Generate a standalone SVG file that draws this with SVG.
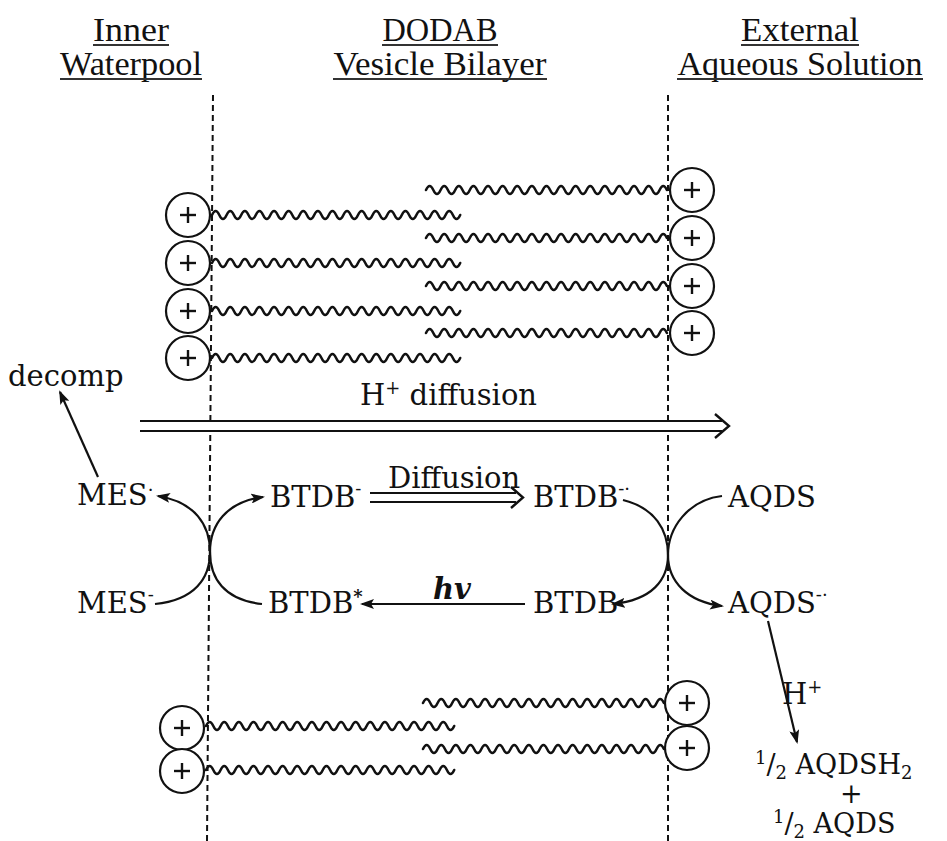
<svg xmlns="http://www.w3.org/2000/svg" xmlns:xlink="http://www.w3.org/1999/xlink" width="947" height="841" viewBox="0 0 947 841">
  <style>
    .hdr { font-family: "Liberation Serif", serif; font-size: 33px; fill: #111; text-anchor: middle; }
    .ul { stroke: #333; stroke-width: 2.2; }
    .lbl { font-family: "DejaVu Serif", serif; font-size: 29px; fill: #111; }
    .prod { font-family: "DejaVu Serif", serif; font-size: 27px; fill: #111; }
    .sup { font-size: 18px; }
    .dash { stroke: #111; stroke-width: 2; stroke-dasharray: 6 4; fill: none; }
    .tail { stroke: #111; stroke-width: 2.5; fill: none; stroke-linecap: round; }
    .head circle { fill: #fff; stroke: #111; stroke-width: 2.2; }
    .head line { stroke: #111; stroke-width: 2.4; }
    .arc { stroke: #111; stroke-width: 2.2; fill: none; }
    .dbl-outer { stroke: #111; stroke-width: 12; fill: none; }
    .dbl-inner { stroke: #fff; stroke-width: 8; fill: none; }
    .chev { stroke: #111; stroke-width: 2.4; fill: none; stroke-linejoin: miter; }
  </style>
  <defs>
    <!-- surfactant head group -->
    <g id="headgrp" class="head">
      <circle cx="0" cy="0" r="22"/>
      <line x1="-8" y1="0" x2="8" y2="0"/>
      <line x1="0" y1="-8" x2="0" y2="8"/>
    </g>
    <!-- hydrocarbon tail, 34 half waves -->
    <path id="tailLong" class="tail" d="M0,0 q3.65,-8 7.3,0 t7.3,0 t7.3,0 t7.3,0 t7.3,0 t7.3,0 t7.3,0 t7.3,0 t7.3,0 t7.3,0 t7.3,0 t7.3,0 t7.3,0 t7.3,0 t7.3,0 t7.3,0 t7.3,0 t7.3,0 t7.3,0 t7.3,0 t7.3,0 t7.3,0 t7.3,0 t7.3,0 t7.3,0 t7.3,0 t7.3,0 t7.3,0 t7.3,0 t7.3,0 t7.3,0 t7.3,0 t7.3,0 t7.3,0"/>
    <!-- outer leaflet tail, 33 half waves -->
    <path id="tailShort" class="tail" d="M0,0 q3.65,-8 7.3,0 t7.3,0 t7.3,0 t7.3,0 t7.3,0 t7.3,0 t7.3,0 t7.3,0 t7.3,0 t7.3,0 t7.3,0 t7.3,0 t7.3,0 t7.3,0 t7.3,0 t7.3,0 t7.3,0 t7.3,0 t7.3,0 t7.3,0 t7.3,0 t7.3,0 t7.3,0 t7.3,0 t7.3,0 t7.3,0 t7.3,0 t7.3,0 t7.3,0 t7.3,0 t7.3,0 t7.3,0 t7.3,0"/>
    <marker id="ah" viewBox="0 0 14 10" refX="12" refY="5" markerWidth="14" markerHeight="10" markerUnits="userSpaceOnUse" orient="auto">
      <path d="M0,0 L14,5 L0,10 L3,5 z" fill="#111"/>
    </marker>
  </defs>

  <!-- column headings -->
  <g id="heading-inner">
    <text class="hdr" x="131" y="41" textLength="76" lengthAdjust="spacingAndGlyphs">Inner</text>
    <text class="hdr" x="131" y="75" textLength="142" lengthAdjust="spacingAndGlyphs">Waterpool</text>
    <line class="ul" x1="93" y1="45" x2="169" y2="45"/>
    <line class="ul" x1="60" y1="79" x2="202" y2="79"/>
  </g>
  <g id="heading-bilayer">
    <text class="hdr" x="440" y="41" textLength="115" lengthAdjust="spacingAndGlyphs">DODAB</text>
    <text class="hdr" x="440" y="75" textLength="213" lengthAdjust="spacingAndGlyphs">Vesicle Bilayer</text>
    <line class="ul" x1="382" y1="45" x2="498" y2="45"/>
    <line class="ul" x1="333" y1="79" x2="547" y2="79"/>
  </g>
  <g id="heading-external">
    <text class="hdr" x="800" y="41" textLength="118" lengthAdjust="spacingAndGlyphs">External</text>
    <text class="hdr" x="800" y="75" textLength="245" lengthAdjust="spacingAndGlyphs">Aqueous Solution</text>
    <line class="ul" x1="741" y1="45" x2="859" y2="45"/>
    <line class="ul" x1="677" y1="79" x2="923" y2="79"/>
  </g>

  <!-- bilayer boundaries -->
  <g id="boundaries">
    <line class="dash" x1="213" y1="95" x2="207" y2="841"/>
    <line class="dash" x1="668" y1="95" x2="668" y2="841"/>
  </g>

  <!-- upper bilayer section -->
  <g id="upper-inner-leaflet">
    <use xlink:href="#tailLong" x="212" y="215"/>
    <use xlink:href="#tailLong" x="212" y="263"/>
    <use xlink:href="#tailLong" x="212" y="311"/>
    <use xlink:href="#tailLong" x="212" y="358"/>
    <use xlink:href="#headgrp" x="188" y="215"/>
    <use xlink:href="#headgrp" x="188" y="263"/>
    <use xlink:href="#headgrp" x="188" y="311"/>
    <use xlink:href="#headgrp" x="188" y="358"/>
  </g>
  <g id="upper-outer-leaflet">
    <use xlink:href="#tailShort" x="426" y="190"/>
    <use xlink:href="#tailShort" x="426" y="238"/>
    <use xlink:href="#tailShort" x="426" y="286"/>
    <use xlink:href="#tailShort" x="426" y="333"/>
    <use xlink:href="#headgrp" x="692" y="190"/>
    <use xlink:href="#headgrp" x="692" y="238"/>
    <use xlink:href="#headgrp" x="692" y="286"/>
    <use xlink:href="#headgrp" x="692" y="333"/>
  </g>

  <!-- lower bilayer section -->
  <g id="lower-inner-leaflet">
    <use xlink:href="#tailLong" x="206" y="726"/>
    <use xlink:href="#tailLong" x="206" y="770"/>
    <use xlink:href="#headgrp" x="182" y="728"/>
    <use xlink:href="#headgrp" x="182" y="771"/>
  </g>
  <g id="lower-outer-leaflet">
    <use xlink:href="#tailShort" x="423" y="703"/>
    <use xlink:href="#tailShort" x="423" y="749"/>
    <use xlink:href="#headgrp" x="687" y="703"/>
    <use xlink:href="#headgrp" x="687" y="748"/>
  </g>

  <!-- species labels -->
  <g id="decomp"><text class="lbl" x="8" y="386">decomp</text></g>
  <g id="h-diffusion-label"><text class="lbl" x="360" y="405">H<tspan class="sup" dy="-11">+</tspan><tspan dy="11"> diffusion</tspan></text></g>
  <g id="mes-radical"><text class="lbl" x="77" y="505">MES<tspan class="sup" dy="-9">·</tspan></text></g>
  <g id="mes-anion"><text class="lbl" x="77" y="613">MES<tspan class="sup" dy="-12">-</tspan></text></g>
  <g id="btdb-anion-inner"><text class="lbl" x="270" y="507">BTDB<tspan class="sup" dy="-12">-</tspan></text></g>
  <g id="btdb-excited"><text class="lbl" x="268" y="613">BTDB<tspan class="sup" dy="-10" font-weight="bold">*</tspan></text></g>
  <g id="diffusion-label"><text class="lbl" x="388" y="488">Diffusion</text></g>
  <g id="hv-label"><text class="lbl" x="433" y="599" font-weight="bold" font-style="italic">hv</text></g>
  <g id="btdb-anion-outer"><text class="lbl" x="533" y="507">BTDB<tspan class="sup" dy="-12">-·</tspan></text></g>
  <g id="btdb-ground"><text class="lbl" x="533" y="613">BTDB</text></g>
  <g id="aqds"><text class="lbl" x="728" y="507">AQDS</text></g>
  <g id="aqds-radical"><text class="lbl" x="728" y="613">AQDS<tspan class="sup" dy="-12">-·</tspan></text></g>
  <g id="h-plus"><text class="lbl" x="782" y="704">H<tspan class="sup" dy="-11">+</tspan></text></g>
  <g id="products">
    <text class="prod" x="755" y="774"><tspan class="sup" dy="-10">1</tspan><tspan dy="10">/</tspan><tspan class="sup" dy="5">2</tspan><tspan dy="-5"> AQDSH</tspan><tspan class="sup" dy="5">2</tspan></text>
    <text class="prod" x="840" y="803" font-size="20">+</text>
    <text class="prod" x="773" y="833"><tspan class="sup" dy="-10">1</tspan><tspan dy="10">/</tspan><tspan class="sup" dy="5">2</tspan><tspan dy="-5"> AQDS</tspan></text>
  </g>

  <!-- connectors -->
  <g id="connectors">
    <!-- H+ diffusion, hollow double arrow -->
    <path class="dbl-outer" d="M140,426 H722"/>
    <path class="dbl-inner" d="M140,426 H723"/>
    <path class="chev" d="M715,414 L729,426 L715,438"/>
    <!-- BTDB- diffusion across the bilayer -->
    <path class="dbl-outer" d="M370,497.5 H516" style="stroke-width:11"/>
    <path class="dbl-inner" d="M370,497.5 H517" style="stroke-width:7"/>
    <path class="chev" d="M511,487 L523,497.5 L511,508"/>
    <!-- photoexcitation -->
    <line class="arc" x1="525" y1="604" x2="362" y2="604" marker-end="url(#ah)"/>
    <!-- MES radical decomposition -->
    <line class="arc" x1="98" y1="477" x2="60" y2="392" marker-end="url(#ah)"/>
    <!-- inner interface electron transfer -->
    <path class="arc" d="M155,604 C195,600 210,578 210,552 C210,525 195,502 158,496" marker-end="url(#ah)"/>
    <path class="arc" d="M262,604 C224,600 210,578 210,552 C210,525 226,502 263,497" marker-end="url(#ah)"/>
    <!-- outer interface electron transfer -->
    <path class="arc" d="M623,500 C655,508 668,530 668,555 C668,580 652,600 613,604" marker-end="url(#ah)"/>
    <path class="arc" d="M722,496 C688,500 668,528 668,555 C668,582 688,602 722,606" marker-end="url(#ah)"/>
    <!-- protonation / disproportionation -->
    <line class="arc" x1="768" y1="621" x2="797" y2="742" marker-end="url(#ah)"/>
  </g>
</svg>
